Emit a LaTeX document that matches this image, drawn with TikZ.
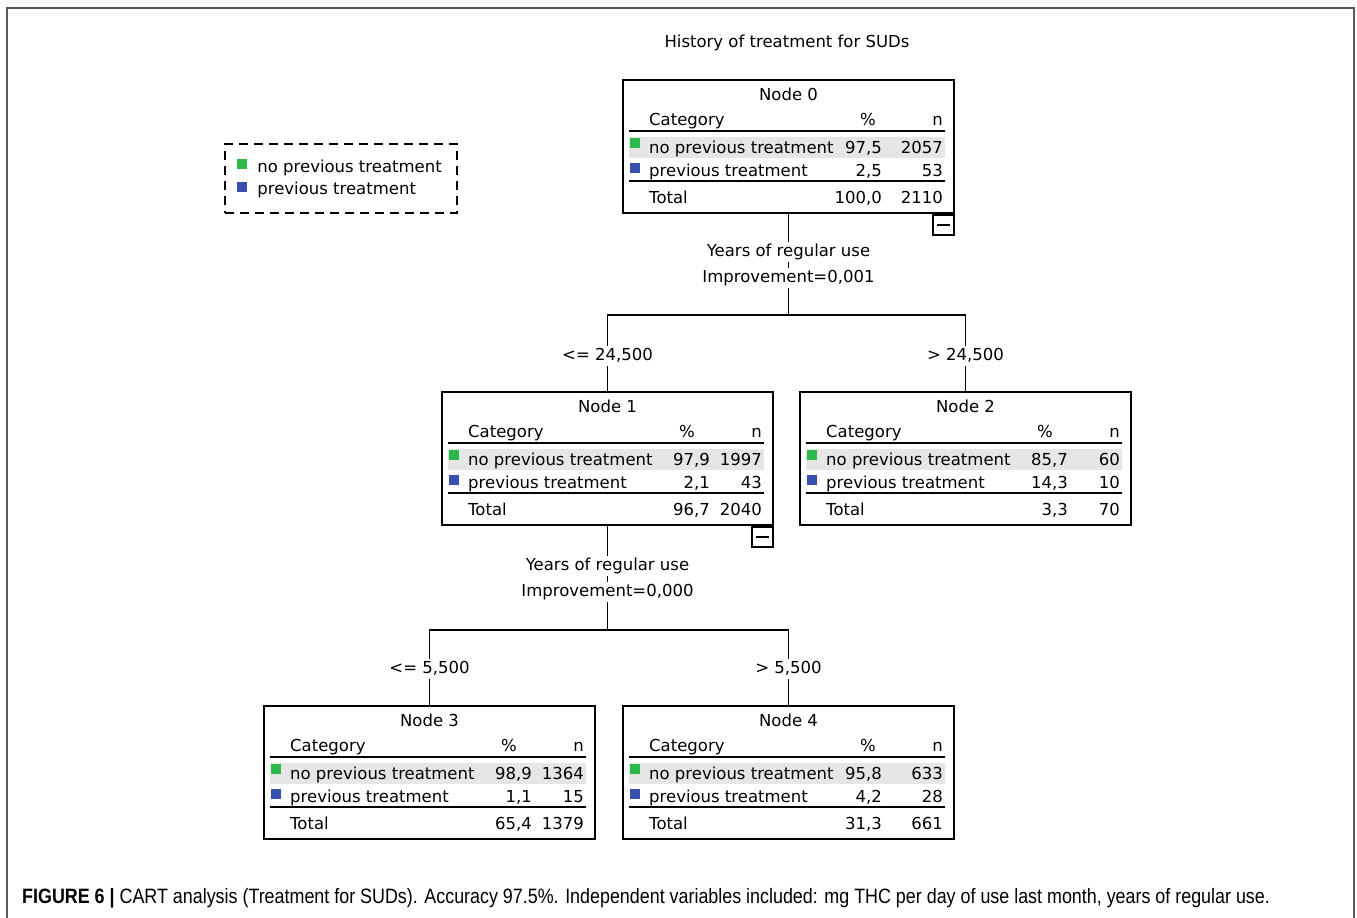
\documentclass[tikz,border=0pt]{standalone}
\usepackage{fontspec}
\setmainfont{DejaVu Sans}
\newfontfamily\capfont{Liberation Sans}
\usetikzlibrary{positioning}

\definecolor{catgreen}{RGB}{45,184,74}
\definecolor{catblue}{RGB}{58,80,176}
\definecolor{rowgrey}{RGB}{230,230,230}

\tikzset{
  treebox/.style={draw, line width=1.8pt, minimum width=331pt, minimum height=133pt, inner sep=0pt},
  cell/.style={inner sep=0pt, text height=12pt, text depth=3.5pt, yshift=-2pt},
  swatch/.style={minimum size=10pt, inner sep=0pt},
  rule/.style={line width=1.8pt},
  split/.style={fill=white, inner sep=2pt, text height=12pt, text depth=3.5pt, yshift=-2pt},
  minusbox/.style={draw, line width=1.8pt, minimum width=21pt, minimum height=20pt, inner sep=0pt,
    path picture={\draw[line width=1.8pt] ([xshift=4pt]path picture bounding box.west) -- ([xshift=-4pt]path picture bounding box.east);}},
}

\begin{document}
\begin{tikzpicture}[x=1pt, y=-1pt, font=\fontsize{16.5}{19}\selectfont]
  \useasboundingbox (0,0) rectangle (1357,918);
  \draw[line width=1.5pt, black!65] (7,918) -- (7,8) -- (1354,8) -- (1354,918);

  \node[cell] (title) at (787,41) {History of treatment for SUDs};

  % legend
  \node[draw, line width=1.8pt, dash pattern=on 9pt off 6pt, minimum width=232pt, minimum height=69pt] (legend) at (341,178.5) {};
  \node[swatch, fill=catgreen] (lg) at (242,164) {};
  \node[swatch, fill=catblue] (lb) at (242,187) {};
  \node[cell, right=10pt of lg, yshift=-2pt] (lgt) {no previous treatment};
  \node[cell, right=10pt of lb, yshift=-1pt] (lbt) {previous treatment};

  % tree nodes
  \foreach \k/\L/\T/\pc/\pa/\na/\pb/\nb/\pt/\nt in {
      0/623/80/259/{97,5}/2057/{2,5}/53/{100,0}/2110,
      1/442/392/268/{97,9}/1997/{2,1}/43/{96,7}/2040,
      2/800/392/268/{85,7}/60/{14,3}/10/{3,3}/70,
      3/264/706/268/{98,9}/1364/{1,1}/15/{65,4}/1379,
      4/623/706/259/{95,8}/633/{4,2}/28/{31,3}/661} {
    \begin{scope}[shift={(\L,\T)}]
      \fill[rowgrey] (6,57) rectangle (322,78);
      \node[treebox] (n\k) at (165.5,66.5) {};
      \node[cell] at (165.5,14) {Node \k};
      \node[cell, anchor=west] at (26,39) {Category};
      \node[cell] at (245,39) {\%};
      \node[cell, anchor=east] at (320,39) {n};
      \draw[rule] (6,51) -- (322,51);
      \node[swatch, fill=catgreen, anchor=north west] at (7,58) {};
      \node[swatch, fill=catblue, anchor=north west] at (7,83) {};
      \node[cell, anchor=west] at (26,67) {no previous treatment};
      \node[cell, anchor=east] at (\pc,67) {\pa};
      \node[cell, anchor=east] at (320,67) {\na};
      \node[cell, anchor=west] at (26,90) {previous treatment};
      \node[cell, anchor=east] at (\pc,90) {\pb};
      \node[cell, anchor=east] at (320,90) {\nb};
      \draw[rule] (6,101) -- (322,101);
      \node[cell, anchor=west] at (26,117) {Total};
      \node[cell, anchor=east] at (\pc,117) {\pt};
      \node[cell, anchor=east] at (320,117) {\nt};
    \end{scope}
  }

  \node[minusbox, anchor=north east] (m0) at (n0.south east) {};
  \node[minusbox, anchor=north east] (m1) at (n1.south east) {};

  % splits
  \coordinate (j0) at (788.5,315);
  \coordinate (j1) at (607.5,630);
  \draw[rule] (n0.south) -- (j0);
  \draw[rule] (n1.north) |- (j0) -| (n2.north);
  \draw[rule] (n1.south) -- (j1);
  \draw[rule] (n3.north) |- (j1) -| (n4.north);

  \node[split] (q0) at (788.5,250) {Years of regular use};
  \node[split] (i0) at (788.5,276) {Improvement=0,001};
  \node[split] (c1) at (607.5,354) {<= 24,500};
  \node[split] (c2) at (965.5,354) {> 24,500};
  \node[split] (q1) at (607.5,564) {Years of regular use};
  \node[split] (i1) at (607.5,590) {Improvement=0,000};
  \node[split] (c3) at (429.5,667) {<= 5,500};
  \node[split] (c4) at (788.5,667) {> 5,500};

  \node[anchor=west, inner sep=0pt] (caption) at (22,898) {\capfont\fontsize{20.8}{24}\selectfont\scalebox{0.86}[1]{\textbf{FIGURE 6 |} CART analysis (Treatment for SUDs). Accuracy 97.5\%. Independent variables included: mg THC per day of use last month, years of regular use.}};
\end{tikzpicture}
\end{document}
